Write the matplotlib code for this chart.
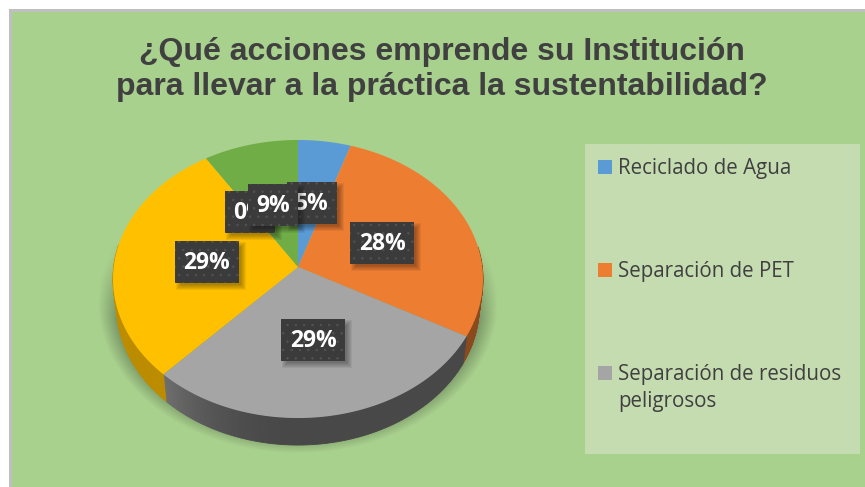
import numpy as np
import matplotlib
matplotlib.use("Agg")
import matplotlib.pyplot as plt
from matplotlib.patches import Polygon, Rectangle

# data (order follows the office colour cycle)
values = [5, 28, 29, 29, 0, 9]
slice_colors = ["#5B9BD5", "#ED7D31", "#A5A5A5", "#FFC000", "#4472C4", "#70AD47"]
wall_colors = ["#3d6c96", "#8a4a1e", "#484848", "#bd8c00", "#2f5088", "#4e7a32"]
legend_labels = ["Reciclado de Agua", "Separación de PET", "Separación de residuos\npeligrosos"]
legend_y = [167, 270, 373]
title = "¿Qué acciones emprende su Institución\npara llevar a la práctica la sustentabilidad?"

# pie geometry in image pixels, tilted disc with a little perspective
cx, cy = 298, 267
A, B, k = 184.3, 138.0, 0.0863
depth = 27
ring = 0.98


def project(theta, r=1.0):
    x = r * np.sin(theta)
    y = r * np.cos(theta)
    w = 1 + k * y
    return cx + A * x / w, cy - B * y / w


def shade(color, f):
    rgb = np.array(matplotlib.colors.to_rgb(color))
    return tuple(np.clip(rgb * f, 0, 1))


fig = plt.figure(figsize=(8.65, 4.87), dpi=100, facecolor="white")
ax = fig.add_axes([0, 0, 1, 1])
ax.axis("off")

# background
ax.add_patch(Rectangle((9, 9), 860, 482, fc="#bfbfbf", ec="none", zorder=0))
ax.add_patch(Rectangle((12, 12), 860, 482, fc="#a9d18e", ec="none", zorder=0.1))

# soft shadow under the pie
gx, gy = np.meshgrid(np.arange(865) + 0.5, np.arange(487) + 0.5)
sy = cy + 22 - gy
yy = sy / (B - k * sy)
xx = (gx - cx) * (1 + k * yy) / A
rr = np.sqrt(xx ** 2 + yy ** 2)
alpha = np.clip((1.08 - rr) / 0.1, 0, 1) * 0.3
alpha *= np.clip((gy - 230) / 90, 0, 1)
alpha[gy > 456] = 0
img = np.zeros((487, 865, 4))
img[..., 3] = alpha
ax.imshow(img, extent=(0, 865, 487, 0), aspect="auto", zorder=0.5, interpolation="bilinear")

# slices and side wall
edges = np.cumsum([0] + values) / sum(values) * 2 * np.pi
for i, v in enumerate(values):
    if v == 0:
        continue
    th = np.linspace(edges[i], edges[i + 1], 120)
    px, py = project(th)
    bx = cx + (px - cx) * ring
    for j in range(len(th) - 1):
        # only the front of the disc shows a wall
        if not np.pi * 0.45 < th[j] < np.pi * 1.55:
            continue
        f = 1.0
        if slice_colors[i] == "#A5A5A5":
            f = 1 + 0.55 * np.clip((th[j] - np.pi) / (edges[i + 1] - np.pi), 0, 1) ** 2
        quad = [(px[j], py[j]), (px[j + 1], py[j + 1]),
                (bx[j + 1], py[j + 1] + depth), (bx[j], py[j] + depth)]
        ax.add_patch(Polygon(quad, fc=shade(wall_colors[i], f), ec=shade(wall_colors[i], f), lw=0.6, zorder=1))
for i, v in enumerate(values):
    if v == 0:
        continue
    th = np.linspace(edges[i], edges[i + 1], 120)
    px, py = project(th)
    pts = [(cx, cy)] + list(zip(px, py))
    ax.add_patch(Polygon(pts, fc=slice_colors[i], ec="none", zorder=2))

# data labels, in series order so the later ones cover the earlier ones
plt.rcParams["hatch.linewidth"] = 0.5
for i, v in enumerate(values):
    mid = (edges[i] + edges[i + 1]) / 2
    lx, ly = project(mid, 0.5)
    ly += 1.5
    txt = f"{v}%"
    w = 22 + 14 * len(txt)
    h = 42
    z = 5 + i
    for n in range(6):
        ax.add_patch(Rectangle((lx - w / 2 + 6 - n, ly - h / 2 + 6 - n), w + 2 * n - 4, h + 2 * n - 4,
                               fc="black", ec="none", alpha=0.06, zorder=z))
    ax.add_patch(Rectangle((lx - w / 2, ly - h / 2), w, h, fc="#3b3b3b", ec="#535353", lw=0, hatch="..", zorder=z + 0.1))
    ax.text(lx, ly + 1, txt, color="white", fontsize=16.5, fontweight="bold", family="Open Sans",
            ha="center", va="center", zorder=z + 0.2)

# legend panel
ax.add_patch(Rectangle((585, 144), 275, 310, fc="#c5dcb1", ec="none", zorder=3))
for i, lab in enumerate(legend_labels):
    ax.add_patch(Rectangle((598, legend_y[i] - 7), 14, 14, fc=slice_colors[i], ec="none", zorder=4))
    ax.text(618, legend_y[i] - 9, lab, color="#404040", fontsize=14.8, family="Open Sans",
            ha="left", va="top", linespacing=1.35, zorder=4)

ax.text(442, 69.5, title, color="#404040", fontsize=23, fontweight="bold", family="Liberation Sans",
        ha="center", va="center", linespacing=1.25, zorder=4)

ax.set_xlim(0, 865)
ax.set_ylim(487, 0)
fig.savefig("out.png", dpi=100)
